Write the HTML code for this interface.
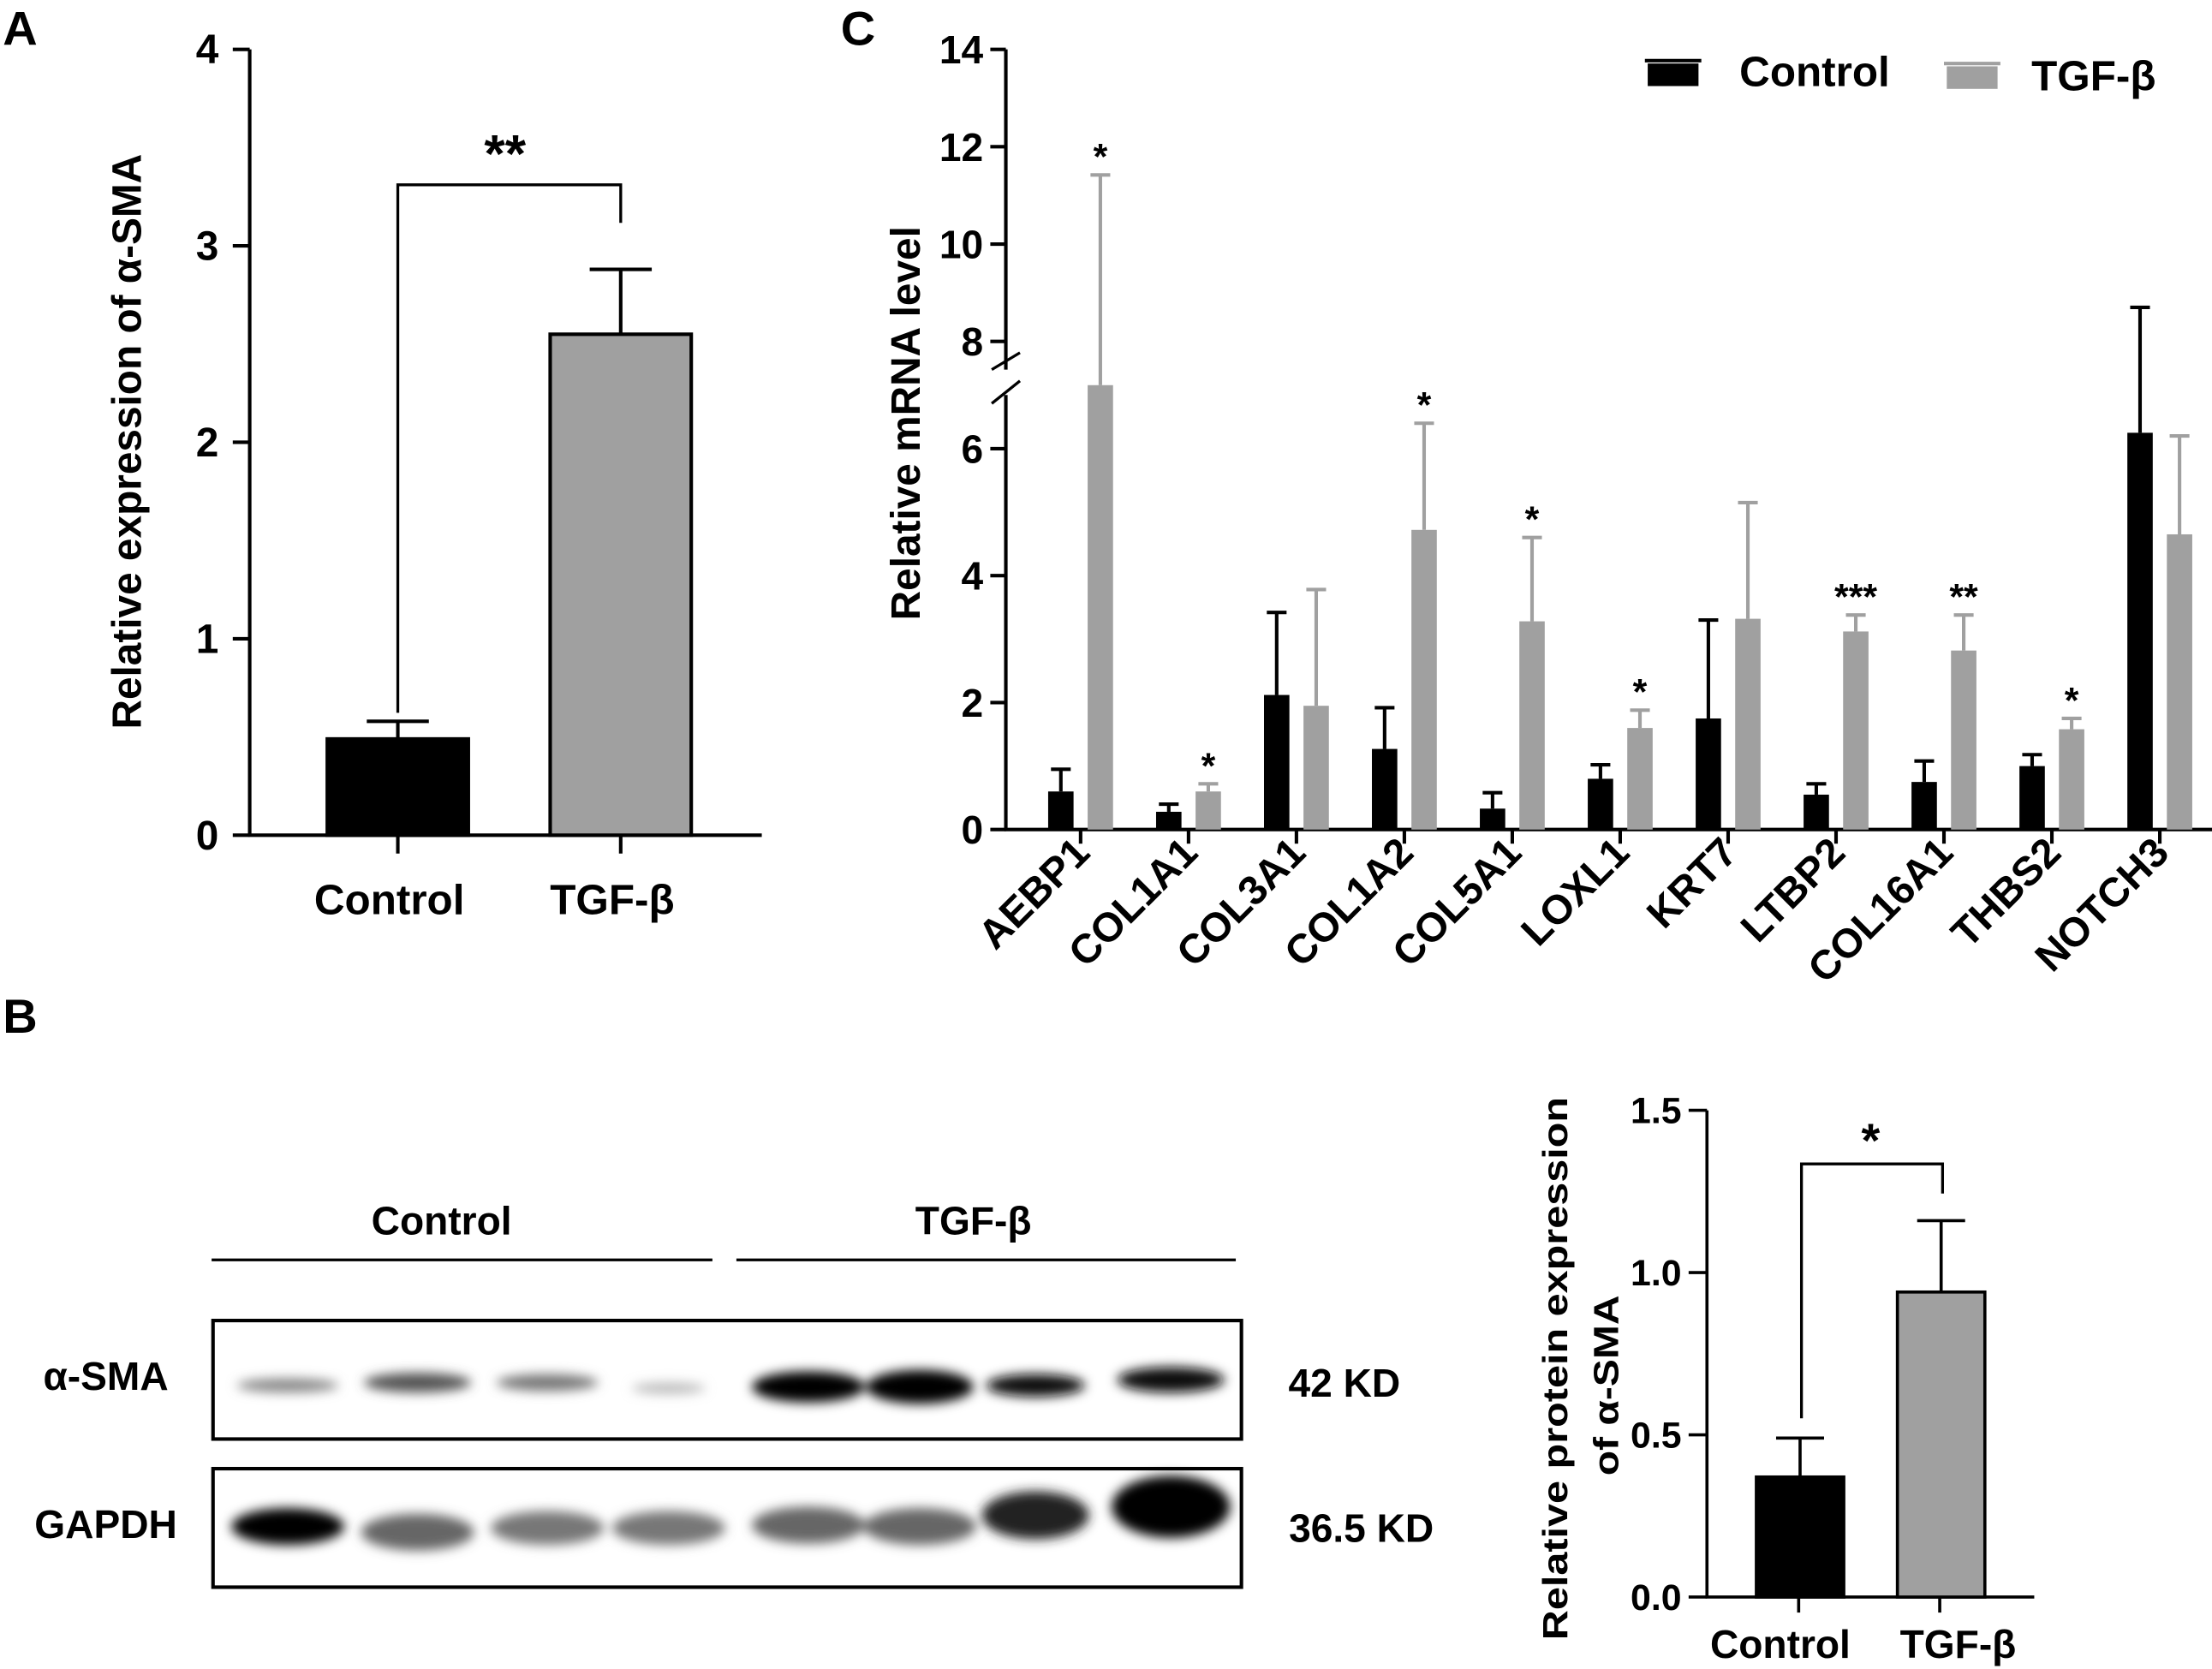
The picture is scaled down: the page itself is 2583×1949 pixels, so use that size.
<!DOCTYPE html>
<html><head><meta charset="utf-8"><style>
html,body{margin:0;padding:0;background:#fff;}
svg{display:block;font-family:"Liberation Sans",Arial,sans-serif;font-weight:bold;}
</style></head><body>
<svg id="fig" width="2583" height="1949" viewBox="0 0 1568 1183" preserveAspectRatio="none">
<defs><filter id="blur" x="-50%" y="-80%" width="200%" height="260%"><feGaussianBlur stdDeviation="4"/></filter></defs>
<rect width="1568" height="1183" fill="#fff"/>
<text x="2" y="32" font-size="34">A</text>
<text x="596" y="32" font-size="34">C</text>
<text x="2" y="732" font-size="34">B</text>
<g id="chartA"></g>
<g id="chartC"></g>
<g id="chartB"></g>
<g id="blot">
<text x="313" y="875" font-size="28" text-anchor="middle">Control</text>
<text x="690" y="875" font-size="28" text-anchor="middle">TGF-β</text>
<line x1="150" y1="893" x2="505" y2="893" stroke="#000" stroke-width="2"/>
<line x1="522" y1="893" x2="876" y2="893" stroke="#000" stroke-width="2"/>
<rect x="151" y="936" width="729" height="84" fill="#fff" stroke="#000" stroke-width="2.5"/>
<rect x="151" y="1041" width="729" height="84" fill="#fff" stroke="#000" stroke-width="2.5"/>
<g filter="url(#blur)">
<ellipse cx="204" cy="982" rx="36" ry="5" fill="#888"/>
<ellipse cx="296" cy="980" rx="38" ry="7" fill="#555"/>
<ellipse cx="388" cy="980" rx="36" ry="6" fill="#777"/>
<ellipse cx="474" cy="984" rx="26" ry="4" fill="#bbb"/>
<ellipse cx="573" cy="983" rx="40" ry="11" fill="#000"/>
<ellipse cx="652" cy="983" rx="38" ry="12" fill="#000"/>
<ellipse cx="734" cy="982" rx="35" ry="8" fill="#111"/>
<ellipse cx="830" cy="978" rx="38" ry="9" fill="#111"/>
<ellipse cx="204" cy="1082" rx="40" ry="13" fill="#000"/>
<ellipse cx="296" cy="1086" rx="40" ry="13" fill="#666"/>
<ellipse cx="388" cy="1083" rx="40" ry="12" fill="#777"/>
<ellipse cx="474" cy="1083" rx="40" ry="12" fill="#777"/>
<ellipse cx="573" cy="1081" rx="40" ry="13" fill="#666"/>
<ellipse cx="652" cy="1082" rx="40" ry="13" fill="#666"/>
<ellipse cx="734" cy="1074" rx="38" ry="17" fill="#222"/>
<ellipse cx="830" cy="1068" rx="42" ry="22" fill="#000"/>
</g>
<text x="75" y="985" font-size="28" text-anchor="middle">α-SMA</text>
<text x="75" y="1090" font-size="28" text-anchor="middle">GAPDH</text>
<text x="953" y="990" font-size="28" text-anchor="middle">42 KD</text>
<text x="965" y="1093" font-size="28" text-anchor="middle">36.5 KD</text>
</g>
</svg>
<script>
var NS="http://www.w3.org/2000/svg";
function mk(p,t,a,txt){var e=document.createElementNS(NS,t);for(var k in a)e.setAttribute(k,a[k]);if(txt!==undefined)e.textContent=txt;p.appendChild(e);return e;}

// Panel A data
var aCats=["Control","TGF-β"];
var aVals=[0.49,2.55];
var aErr=[0.58,2.88];
var aTicks=[0,1,2,3,4];
// Panel C data
var cCats=["AEBP1","COL1A1","COL3A1","COL1A2","COL5A1","LOXL1","KRT7","LTBP2","COL16A1","THBS2","NOTCH3"];
var cCtrl=[0.6,0.28,2.12,1.27,0.33,0.8,1.75,0.55,0.75,1.0,6.25];
var cCtrlErr=[0.95,0.4,3.42,1.92,0.58,1.02,3.3,0.72,1.08,1.18,8.7];
var cTgf=[7.0,0.6,1.95,4.72,3.28,1.6,3.32,3.12,2.82,1.58,4.65];
var cTgfErr=[11.42,0.72,3.78,6.4,4.6,1.88,5.15,3.38,3.38,1.75,6.2];
var cSig=["*","*","","*","*","*","","***","**","*",""];
var cTicksLow=[0,2,4,6];
var cTicksHigh=[8,10,12,14];
// Panel B quant data
var bCats=["Control","TGF-β"];
var bVals=[0.37,0.94];
var bErr=[0.49,1.16];
var bTicks=[0.0,0.5,1.0,1.5];

// ---- Panel A
(function(){
var g=document.getElementById('chartA');
function y(v){return 592-v*139.25;}
var xs=[282,440];
mk(g,'line',{x1:177,y1:y(4),x2:177,y2:592,stroke:'#000','stroke-width':2.5});
mk(g,'line',{x1:176,y1:592,x2:540,y2:592,stroke:'#000','stroke-width':2.5});
aTicks.forEach(function(t){
 mk(g,'line',{x1:165,y1:y(t),x2:177,y2:y(t),stroke:'#000','stroke-width':2.5});
 var l=mk(g,'text',{x:155,y:y(t)+10,'font-size':29,'text-anchor':'end'},t);
 
 
});
aCats.forEach(function(c,i){
 var x=xs[i];
 mk(g,'line',{x1:x,y1:y(aErr[i]),x2:x,y2:y(aVals[i]),stroke:'#000','stroke-width':2.5});
 mk(g,'line',{x1:x-22,y1:y(aErr[i]),x2:x+22,y2:y(aErr[i]),stroke:'#000','stroke-width':2.5});
 var b=mk(g,'rect',{x:x-50,y:y(aVals[i]),width:100,height:592-y(aVals[i]),fill:i?'#a0a0a0':'#000',stroke:'#000','stroke-width':2.5});
 
 
 mk(g,'line',{x1:x,y1:592,x2:x,y2:605,stroke:'#000','stroke-width':2.5});
 var l=mk(g,'text',{x:x-6,y:648,'font-size':30,'text-anchor':'middle'},c);
 
 
});
mk(g,'polyline',{points:"282,"+(y(aErr[0])-6)+" 282,131 440,131 440,158",fill:'none',stroke:'#000','stroke-width':2});
mk(g,'text',{x:358,y:122,'font-size':38,'text-anchor':'middle'},'**');
var t=mk(g,'text',{transform:'translate(100,313) rotate(-90)','font-size':29,'text-anchor':'middle'},'Relative expression of α-SMA');


})();

// ---- Panel C
(function(){
var g=document.getElementById('chartC');
function y(v){return v<=7.4?588-45*v:242-34.5*(v-8);}
var sw=2.5;
mk(g,'line',{x1:713,y1:588,x2:713,y2:280,stroke:'#000','stroke-width':sw});
mk(g,'line',{x1:713,y1:262,x2:713,y2:35,stroke:'#000','stroke-width':sw});
mk(g,'line',{x1:703,y1:262,x2:723,y2:250,stroke:'#000','stroke-width':2});
mk(g,'line',{x1:703,y1:286,x2:723,y2:270,stroke:'#000','stroke-width':2});
mk(g,'line',{x1:712,y1:588,x2:1568,y2:588,stroke:'#000','stroke-width':sw});
cTicksLow.concat(cTicksHigh).forEach(function(t){
 mk(g,'line',{x1:702,y1:y(t),x2:713,y2:y(t),stroke:'#000','stroke-width':sw});
 var l=mk(g,'text',{x:697,y:y(t)+10,'font-size':28,'text-anchor':'end'},t);
 
 
});
cCats.forEach(function(c,i){
 var cx=766+i*76.5, x0=cx-14, x1=cx+14;
 mk(g,'line',{x1:cx,y1:588,x2:cx,y2:598,stroke:'#000','stroke-width':sw});
 [[x0,cCtrl[i],cCtrlErr[i],'#000'],[x1,cTgf[i],cTgfErr[i],'#a0a0a0']].forEach(function(s,k){
  mk(g,'line',{x1:s[0],y1:y(s[2]),x2:s[0],y2:y(s[1]),stroke:s[3],'stroke-width':2.5});
  mk(g,'line',{x1:s[0]-7,y1:y(s[2]),x2:s[0]+7,y2:y(s[2]),stroke:s[3],'stroke-width':2.5});
  var b=mk(g,'rect',{x:s[0]-9,y:y(s[1]),width:18,height:588-y(s[1]),fill:s[3]});
  
  
 });
 if(cSig[i]){mk(g,'text',{x:x1,y:y(cTgfErr[i])-4,'font-size':26,'text-anchor':'middle'},cSig[i]);}
 var l=mk(g,'text',{transform:'translate('+(cx+8)+',606) rotate(-45)','font-size':29,'text-anchor':'end'},c);
 
 
});
var t=mk(g,'text',{transform:'translate(652,300) rotate(-90)','font-size':29,'text-anchor':'middle'},'Relative mRNA level');


var lg=mk(g,'g',{});


mk(lg,'rect',{x:1168,y:45,width:36,height:16,fill:'#000'});
mk(lg,'line',{x1:1166,y1:43,x2:1206,y2:43,stroke:'#000','stroke-width':2.5});
mk(lg,'text',{x:1233,y:61,'font-size':30},'Control');
mk(lg,'rect',{x:1380,y:47,width:36,height:16,fill:'#a0a0a0'});
mk(lg,'line',{x1:1378,y1:45,x2:1418,y2:45,stroke:'#a0a0a0','stroke-width':2.5});
mk(lg,'text',{x:1440,y:64,'font-size':30},'TGF-β');
})();

// ---- Panel B quant
(function(){
var g=document.getElementById('chartB');
function y(v){return 1132-v*230;}
var ax=1210;
var xs=[1276,1376];
var lx=[-14,12];
mk(g,'line',{x1:ax,y1:y(1.5),x2:ax,y2:1132,stroke:'#000','stroke-width':2.2});
mk(g,'line',{x1:ax-1,y1:1132,x2:1442,y2:1132,stroke:'#000','stroke-width':2.2});
bTicks.forEach(function(t){
 mk(g,'line',{x1:ax-13,y1:y(t),x2:ax,y2:y(t),stroke:'#000','stroke-width':2.2});
 var l=mk(g,'text',{x:ax-18,y:y(t)+9,'font-size':26,'text-anchor':'end'},t.toFixed(1));
 
 
});
bCats.forEach(function(c,i){
 var x=xs[i];
 mk(g,'line',{x1:x,y1:y(bErr[i]),x2:x,y2:y(bVals[i]),stroke:'#000','stroke-width':2.2});
 mk(g,'line',{x1:x-17,y1:y(bErr[i]),x2:x+17,y2:y(bErr[i]),stroke:'#000','stroke-width':2.2});
 var b=mk(g,'rect',{x:x-31,y:y(bVals[i]),width:62,height:1132-y(bVals[i]),fill:i?'#a0a0a0':'#000',stroke:'#000','stroke-width':2.2});
 
 
 mk(g,'line',{x1:x-1,y1:1132,x2:x-1,y2:1143,stroke:'#000','stroke-width':2.2});
 var l=mk(g,'text',{x:x+lx[i],y:1175,'font-size':28,'text-anchor':'middle'},c);
 
 
});
mk(g,'polyline',{points:"1277,"+(y(bErr[0])-14)+" 1277,825 1377,825 1377,846",fill:'none',stroke:'#000','stroke-width':2});
mk(g,'text',{x:1326,y:820,'font-size':34,'text-anchor':'middle'},'*');
var t=mk(g,'text',{transform:'translate(1111,970) rotate(-90)','font-size':25,'text-anchor':'middle',textLength:385,lengthAdjust:'spacingAndGlyphs'},'Relative protein expression');


mk(g,'text',{transform:'translate(1147,982) rotate(-90)','font-size':25,'text-anchor':'middle',textLength:128,lengthAdjust:'spacingAndGlyphs'},'of α-SMA');
})();
</script>
</body></html>
